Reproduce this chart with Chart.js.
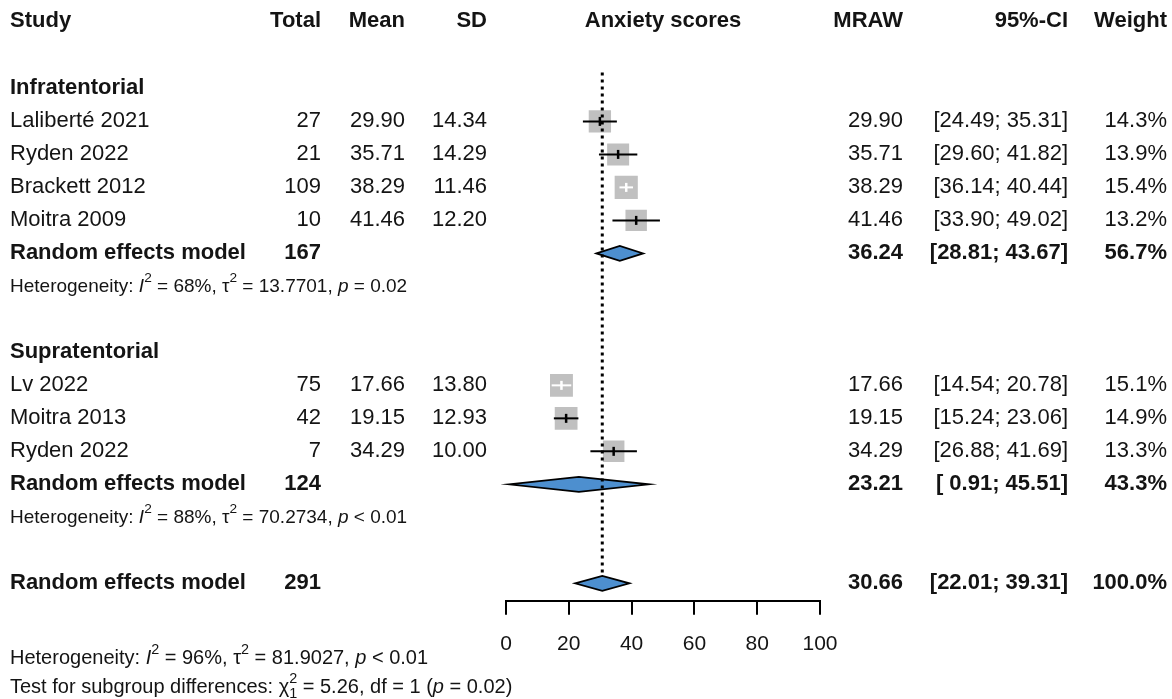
<!DOCTYPE html>
<html><head><meta charset="utf-8">
<script src="https://cdn.jsdelivr.net/npm/chart.js@4.4.1/dist/chart.umd.min.js"></script>
<style>html,body{margin:0;padding:0;background:#fff}#wrap{width:1172px;height:699px;position:relative}</style>
</head><body><div id="wrap"><canvas id="c"></canvas></div>
<script>
// ---- data ----
const studyNames = ['Laliberté 2021','Ryden 2022','Brackett 2012','Moitra 2009','Lv 2022','Moitra 2013','Ryden 2022'];
const studyRows  = [1,2,3,4,9,10,11];
const studyTotal = [27,21,109,10,75,42,7];
const studyMean  = [29.90,35.71,38.29,41.46,17.66,19.15,34.29];
const studySD    = [14.34,14.29,11.46,12.20,13.80,12.93,10.00];
const studyLower = [24.49,29.60,36.14,33.90,14.54,15.24,26.88];
const studyUpper = [35.31,41.82,40.44,49.02,20.78,23.06,41.69];
const studyWeight= [14.3,13.9,15.4,13.2,15.1,14.9,13.3];

const groupNames = ['Infratentorial','Supratentorial'];
const groupRows  = [0,8];

const pooledLabel = ['Random effects model','Random effects model','Random effects model'];
const pooledRows  = [5,12,15];
const pooledTotal = [167,124,291];
const pooledEst   = [36.24,23.21,30.66];
const pooledLower = [28.81,0.91,22.01];
const pooledUpper = [43.67,45.51,39.31];
const pooledWeight= [56.7,43.3,100.0];

const hetRows = [6,13,17.29];
const hetI2   = [68,88,96];
const hetTau2 = [13.7701,70.2734,81.9027];
const hetP    = ['= 0.02','< 0.01','< 0.01'];

const testRow = 18.17;
const testChi2 = 5.26, testDf = 1, testP = '= 0.02';

const headerRow = -2.05;
const xTicks = [0,20,40,60,80,100];
const refValue = 30.66;

const headers = ['Study','Total','Mean','SD','Anxiety scores','MRAW','95%-CI','Weight'];

// ---- drawing helpers ----
const FONT = '"Liberation Sans", Arial, sans-serif';
const TXT = '#141414';
function squareSide(w){ return 5.9*Math.sqrt(w); }

function drawRich(ctx, x, y, segs, size){
  ctx.textBaseline = 'middle';
  ctx.textAlign = 'left';
  let cx = x;
  for (const [t, kind] of segs){
    if (kind === 'sup' || kind === 'supsub'){
      const small = size*0.72;
      ctx.font = small + 'px ' + FONT;
      let w = 0;
      if (kind === 'sup'){
        ctx.fillText(t, cx, y - size*0.42); w = ctx.measureText(t).width;
      } else {
        const [a,b] = t.split('|');
        ctx.fillText(a, cx, y - size*0.42);
        ctx.fillText(b, cx, y + size*0.32);
        w = Math.max(ctx.measureText(a).width, ctx.measureText(b).width);
      }
      cx += w;
    } else {
      ctx.font = (kind === 'i' ? 'italic ' : '') + size + 'px ' + FONT;
      ctx.fillText(t, cx, y);
      cx += ctx.measureText(t).width;
    }
  }
}

function fmtCI(lo, hi){
  const a = lo.toFixed(2), b = hi.toFixed(2);
  return '[' + (a.length < 5 ? ' ' + a : a) + '; ' + b + ']';
}

const forestPlugin = {
  id: 'forest',
  afterDatasetsDraw(chart){
    const ctx = chart.ctx, xs = chart.scales.x, ys = chart.scales.y;
    ctx.save();
    // diamonds
    for (let i = 0; i < pooledEst.length; i++){
      const y = ys.getPixelForValue(pooledRows[i]);
      const h = 7.5;
      ctx.beginPath();
      ctx.moveTo(xs.getPixelForValue(pooledLower[i]), y);
      ctx.lineTo(xs.getPixelForValue(pooledEst[i]), y - h);
      ctx.lineTo(xs.getPixelForValue(pooledUpper[i]), y);
      ctx.lineTo(xs.getPixelForValue(pooledEst[i]), y + h);
      ctx.closePath();
      ctx.fillStyle = '#4d8fcf';
      ctx.fill();
      ctx.lineWidth = 1.8;
      ctx.strokeStyle = '#000';
      ctx.stroke();
    }
    // CI lines
    for (let i = 0; i < studyMean.length; i++){
      const y = ys.getPixelForValue(studyRows[i]);
      const xl = xs.getPixelForValue(studyLower[i]);
      const xu = xs.getPixelForValue(studyUpper[i]);
      const xm = xs.getPixelForValue(studyMean[i]);
      const half = squareSide(studyWeight[i])/2;
      const inside = xl >= xm - half && xu <= xm + half;
      ctx.strokeStyle = inside ? '#ffffff' : '#000000';
      ctx.lineWidth = 2;
      ctx.beginPath(); ctx.moveTo(xl, y); ctx.lineTo(xu, y); ctx.stroke();
      ctx.lineWidth = 2.5;
      ctx.beginPath(); ctx.moveTo(xm, y - 4.5); ctx.lineTo(xm, y + 4.5); ctx.stroke();
    }
    // dotted reference line
    const xr = xs.getPixelForValue(refValue);
    ctx.strokeStyle = '#000';
    ctx.lineWidth = 3;
    ctx.setLineDash([3,4]);
    ctx.beginPath();
    ctx.moveTo(xr, ys.getPixelForValue(-0.48));
    ctx.lineTo(xr, ys.getPixelForValue(pooledRows[2]) - 7);
    ctx.stroke();
    ctx.setLineDash([]);
    ctx.restore();
  },
  afterDraw(chart){
    const ctx = chart.ctx, xs = chart.scales.x, ys = chart.scales.y;
    const colStudy = 10, colTotal = 321, colMean = 405, colSD = 487, colMraw = 903, colCI = 1068, colW = 1167;
    const S = 22;
    ctx.save();
    ctx.fillStyle = TXT;
    ctx.textBaseline = 'middle';
    const put = (t, x, y, align, bold, size) => {
      ctx.font = (bold ? 'bold ' : '') + (size || S) + 'px ' + FONT;
      ctx.textAlign = align;
      ctx.fillText(t, x, y);
    };
    // header
    const yh = ys.getPixelForValue(headerRow);
    put(headers[0], colStudy, yh, 'left', true);
    put(headers[1], colTotal, yh, 'right', true);
    put(headers[2], colMean, yh, 'right', true);
    put(headers[3], colSD, yh, 'right', true);
    put(headers[4], xs.getPixelForValue(50), yh, 'center', true);
    put(headers[5], colMraw, yh, 'right', true);
    put(headers[6], colCI, yh, 'right', true);
    put(headers[7], colW, yh, 'right', true);
    // groups
    for (let i = 0; i < groupNames.length; i++)
      put(groupNames[i], colStudy, ys.getPixelForValue(groupRows[i]), 'left', true);
    // studies
    for (let i = 0; i < studyNames.length; i++){
      const y = ys.getPixelForValue(studyRows[i]);
      put(studyNames[i], colStudy, y, 'left', false);
      put(String(studyTotal[i]), colTotal, y, 'right', false);
      put(studyMean[i].toFixed(2), colMean, y, 'right', false);
      put(studySD[i].toFixed(2), colSD, y, 'right', false);
      put(studyMean[i].toFixed(2), colMraw, y, 'right', false);
      put(fmtCI(studyLower[i], studyUpper[i]), colCI, y, 'right', false);
      put(studyWeight[i].toFixed(1) + '%', colW, y, 'right', false);
    }
    // pooled
    for (let i = 0; i < pooledEst.length; i++){
      const y = ys.getPixelForValue(pooledRows[i]);
      put(pooledLabel[i], colStudy, y, 'left', true);
      put(String(pooledTotal[i]), colTotal, y, 'right', true);
      put(pooledEst[i].toFixed(2), colMraw, y, 'right', true);
      put(fmtCI(pooledLower[i], pooledUpper[i]), colCI, y, 'right', true);
      put(pooledWeight[i].toFixed(1) + '%', colW, y, 'right', true);
    }
    // heterogeneity
    for (let i = 0; i < hetRows.length; i++){
      const size = i < 2 ? 19 : 20;
      drawRich(ctx, colStudy, ys.getPixelForValue(hetRows[i]), [
        ['Heterogeneity: ', 'n'], ['I', 'i'], ['2', 'sup'], [' = ' + hetI2[i] + '%, ', 'n'],
        ['\u03c4', 'n'], ['2', 'sup'], [' = ' + hetTau2[i].toFixed(4) + ', ', 'n'],
        ['p', 'i'], [' ' + hetP[i], 'n']
      ], size);
    }
    drawRich(ctx, colStudy, ys.getPixelForValue(testRow), [
      ['Test for subgroup differences: ', 'n'], ['\u03c7', 'n'], ['2|' + testDf, 'supsub'],
      [' = ' + testChi2.toFixed(2) + ', df = ' + testDf + ' (', 'n'], ['p', 'i'], [' ' + testP + ')', 'n']
    ], 20);
    ctx.restore();
  }
};

new Chart(document.getElementById('c'), {
  type: 'scatter',
  data: {
    datasets: [{
      data: studyMean.map((m, i) => ({x: m, y: studyRows[i]})),
      pointStyle: 'rect',
      radius: (c) => squareSide(studyWeight[c.dataIndex]) / (2 * Math.SQRT1_2),
      backgroundColor: '#c0c0c0',
      borderWidth: 0,
      hoverRadius: 0
    }]
  },
  options: {
    responsive: true,
    maintainAspectRatio: false,
    animation: false,
    events: [],
    layout: { autoPadding: false, padding: { left: 506, right: 352, top: 0, bottom: 25 } },
    plugins: { legend: { display: false }, tooltip: { enabled: false } },
    scales: {
      x: {
        type: 'linear', min: 0, max: 100,
        afterBuildTicks: (s) => { s.ticks = xTicks.map(v => ({value: v})); },
        ticks: { color: TXT, font: { family: FONT, size: 21 }, padding: 17, maxRotation: 0 },
        grid: { display: true, drawOnChartArea: false, drawTicks: true, tickLength: 14, color: '#000', lineWidth: 2 },
        border: { display: true, color: '#000', width: 2 }
      },
      y: { type: 'linear', display: false, reverse: true, min: -2.68, max: 15.53 }
    }
  },
  plugins: [forestPlugin]
});
</script>
</body></html>
